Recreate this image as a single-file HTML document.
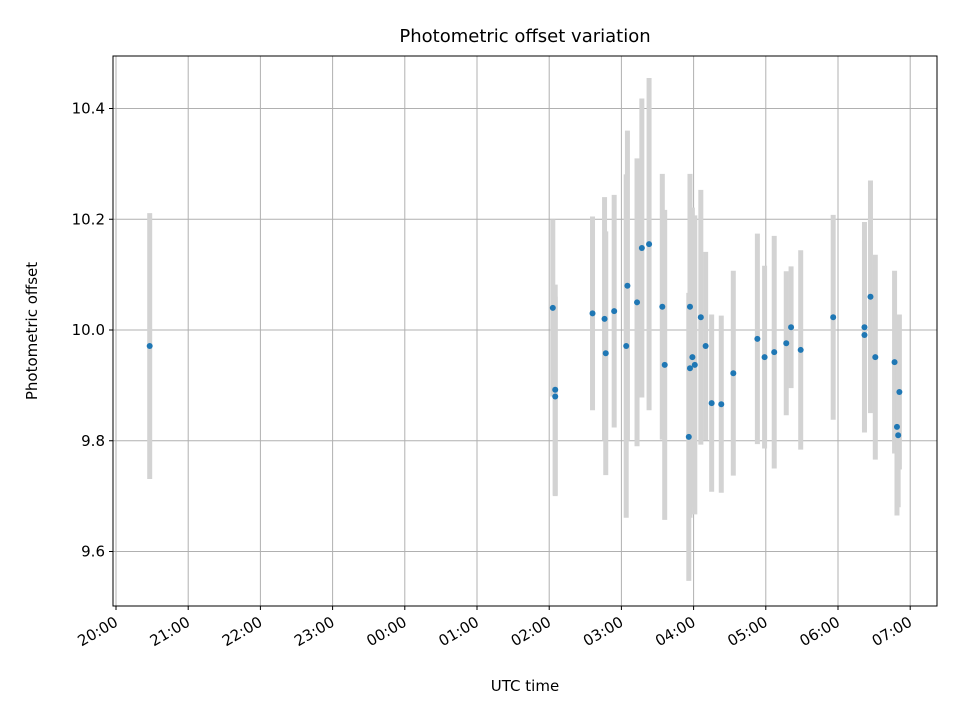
<!DOCTYPE html>
<html><head><meta charset="utf-8"><style>
body{margin:0;background:#fff;font-family:"Liberation Sans","DejaVu Sans",sans-serif}
svg text{font-family:"DejaVu Sans","Liberation Sans",sans-serif;fill:#000}
</style></head><body>
<svg id="chart" width="960" height="720"></svg>
<script>
const times=["20:28","02:03","02:05","02:05","02:36","02:46","02:47","02:54","03:04","03:05","03:13","03:17","03:23","03:34","03:36","03:57","03:56","03:59","03:57","04:01","04:06","04:10","04:15","04:23","04:33","04:53","04:59","05:07","05:17","05:21","05:29","05:56","06:22","06:22","06:27","06:31","06:47","06:49","06:51","06:50"];
const values=[9.971,10.04,9.892,9.88,10.03,10.02,9.958,10.034,9.971,10.08,10.05,10.148,10.155,10.042,9.937,10.042,9.807,9.951,9.931,9.937,10.023,9.971,9.868,9.866,9.922,9.984,9.951,9.96,9.976,10.005,9.964,10.023,9.991,10.005,10.06,9.951,9.942,9.825,9.888,9.81];
const errors=[0.24,0.16,0.19,0.18,0.175,0.22,0.22,0.21,0.31,0.28,0.26,0.27,0.3,0.24,0.28,0.24,0.26,0.27,0.27,0.27,0.23,0.17,0.16,0.16,0.185,0.19,0.165,0.21,0.13,0.11,0.18,0.185,0.17,0.19,0.21,0.185,0.165,0.16,0.14,0.13];
const yTicks=[9.6,9.8,10.0,10.2,10.4];
const xTickLabels=["20:00","21:00","22:00","23:00","00:00","01:00","02:00","03:00","04:00","05:00","06:00","07:00"];
const NS="http://www.w3.org/2000/svg";
const svg=document.getElementById('chart');
const L=113,R=937,T=56,B=606;
function hrs(t){let [h,m]=t.split(':').map(Number);let v=h+m/60-20;if(v<0)v+=24;return v;}
const xs=h=>116+h*72.2;
const ys=v=>330-(v-10)*553.75;
function mk(tag,attrs,parent){const e=document.createElementNS(NS,tag);for(const k in attrs)e.setAttribute(k,attrs[k]);(parent||svg).appendChild(e);return e;}
const grid=mk('g',{});


yTicks.forEach(v=>{const y=ys(v);
 mk('line',{x1:L,x2:R,y1:y,y2:y,stroke:'#b0b0b0','stroke-width':1},grid);
 mk('line',{x1:L-4,x2:L,y1:y,y2:y,stroke:'#000'});
 const t=mk('text',{x:L-8,y:y+5,'text-anchor':'end','font-size':15});
 t.textContent=v.toFixed(1);
 
 
});
xTickLabels.forEach(lab=>{const x=xs(hrs(lab));
 mk('line',{x1:x,x2:x,y1:T,y2:B,stroke:'#b0b0b0','stroke-width':1},grid);
 mk('line',{x1:x,x2:x,y1:B,y2:B+4,stroke:'#000'});
 const ax=x+3, ay=B+19;
 const t=mk('text',{x:ax,y:ay,'text-anchor':'end','font-size':15,transform:`rotate(-30 ${ax} ${ay})`});
 t.textContent=lab;
 
 
});
const eg=mk('g',{});


times.forEach((t,i)=>{const x=xs(hrs(t));
 const b=mk('line',{x1:x,x2:x,y1:ys(values[i]+errors[i]),y2:ys(values[i]-errors[i]),stroke:'#d3d3d3','stroke-width':5},eg);
 
 
});
const pg=mk('g',{});


times.forEach((t,i)=>{
 const c=mk('circle',{cx:xs(hrs(t)),cy:ys(values[i]),r:3,fill:'#1f77b4'},pg);
 
 
});
const fr=mk('rect',{x:L,y:T,width:R-L,height:B-T,fill:'none',stroke:'#000','stroke-width':1});


const ti=mk('text',{x:(L+R)/2,y:42,'text-anchor':'middle','font-size':18});
ti.textContent='Photometric offset variation';


const xl=mk('text',{x:(L+R)/2,y:691,'text-anchor':'middle','font-size':15});
xl.textContent='UTC time';


const yl=mk('text',{x:37,y:331,'text-anchor':'middle','font-size':15,transform:'rotate(-90 37 331)'});
yl.textContent='Photometric offset';


</script>
</body></html>
